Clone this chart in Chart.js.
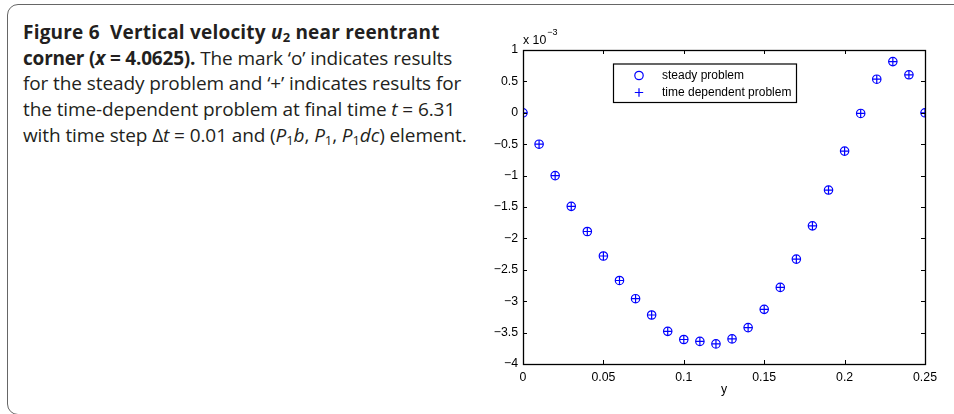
<!DOCTYPE html>
<html>
<head>
<meta charset="utf-8">
<script src="https://cdn.jsdelivr.net/npm/chart.js@4.4.1/dist/chart.umd.min.js"></script>
<style>
  html, body { margin: 0; padding: 0; background: #fff; }
  body { width: 954px; height: 414px; position: relative; overflow: hidden; }
  #frame {
    position: absolute; left: 7px; top: 4px; width: 1000px; height: 409px;
    border: 1.3px solid #666; border-radius: 11px;
  }
  #caption {
    position: absolute; left: 23px; top: 20px;
    font-family: "Open Sans", sans-serif; font-size: 19px; line-height: 25.7px;
    color: #231f20; white-space: nowrap; letter-spacing: -0.1px;
  }
  #caption b { font-weight: 700; letter-spacing: 0.2px; }
  #caption b.r { letter-spacing: -0.2px; }
  #caption sub { font-size: 13px; vertical-align: -3px; line-height: 0; }
  #chartBox { position: absolute; left: 470px; top: 0; width: 484px; height: 414px; }
</style>
</head>
<body>
<div id="frame"></div>
<div id="caption">
  <b>Figure 6&nbsp; Vertical velocity <i>u</i><sub>2</sub> near reentrant</b><br>
  <b class="r">corner (<i>x</i> = 4.0625).</b> The mark ‘o’ indicates results<br>
  for the steady problem and ‘+’ indicates results for<br>
  the time-dependent problem at final time <i>t</i> = 6.31<br>
  with time step Δ<i>t</i> = 0.01 and (<i>P</i><sub>1</sub><i>b</i>, <i>P</i><sub>1</sub>, <i>P</i><sub>1</sub><i>dc</i>) element.
</div>
<div id="chartBox"><canvas id="myChart"></canvas></div>
<script>
// y positions along the vertical line (x axis of the plot)
const yPos = [0, 0.01, 0.02, 0.03, 0.04, 0.05, 0.06, 0.07, 0.08, 0.09, 0.10, 0.11, 0.12,
              0.13, 0.14, 0.15, 0.16, 0.17, 0.18, 0.19, 0.20, 0.21, 0.22, 0.23, 0.24, 0.25];

// u2 values, in units of 1e-3
const steadyU2 = [0, -0.50, -1.00, -1.49, -1.89, -2.28, -2.67, -2.96, -3.22, -3.48, -3.61, -3.64, -3.68,
                  -3.60, -3.42, -3.13, -2.78, -2.33, -1.80, -1.23, -0.61, -0.01, 0.535, 0.815, 0.605, 0];
const timeDepU2 = [0, -0.50, -1.00, -1.49, -1.89, -2.28, -2.67, -2.96, -3.22, -3.48, -3.61, -3.64, -3.68,
                   -3.60, -3.42, -3.13, -2.78, -2.33, -1.80, -1.23, -0.61, -0.01, 0.535, 0.815, 0.605, 0];

const legendLabels = ['steady problem', 'time dependent problem'];
const fontFamily = '"Liberation Sans", Arial, sans-serif';
const axisFont = '12.3px ' + fontFamily;
const markerSize = 4.2;

function toPoints(xs, ys) {
    return xs.map((x, i) => ({ x: x, y: ys[i] }));
}

// matlab style box, inward ticks, exponent label, axis title and legend
const matlabAxes = {
    id: 'matlabAxes',
    afterDraw(chart) {
        const ctx = chart.ctx;
        const a = chart.chartArea;
        const xs = chart.scales.x;
        const ys = chart.scales.y;
        const tl = 4;
        ctx.save();
        ctx.strokeStyle = '#000';
        ctx.lineWidth = 1;
        ctx.beginPath();
        xs.ticks.forEach(t => {
            const px = Math.round(xs.getPixelForValue(t.value)) + 0.5;
            ctx.moveTo(px, a.bottom); ctx.lineTo(px, a.bottom - tl);
            ctx.moveTo(px, a.top); ctx.lineTo(px, a.top + tl);
        });
        ys.ticks.forEach(t => {
            const py = Math.round(ys.getPixelForValue(t.value)) + 0.5;
            ctx.moveTo(a.left, py); ctx.lineTo(a.left + tl, py);
            ctx.moveTo(a.right, py); ctx.lineTo(a.right - tl, py);
        });
        ctx.stroke();
        ctx.lineWidth = 1.3;
        ctx.strokeRect(Math.round(a.left) + 0.5, Math.round(a.top) + 0.5,
                       Math.round(a.right - a.left), Math.round(a.bottom - a.top));

        // exponent
        ctx.fillStyle = '#000';
        ctx.font = axisFont;
        ctx.textBaseline = 'middle';
        ctx.textAlign = 'left';
        ctx.fillText('x 10', a.left, a.top - 9);
        const w = ctx.measureText('x 10').width;
        ctx.font = '9px ' + fontFamily;
        ctx.fillText('\u22123', a.left + w + 1, a.top - 17);

        // axis title
        ctx.font = axisFont;
        ctx.textAlign = 'center';
        ctx.fillText('y', (a.left + a.right) / 2, a.bottom + 26);

        // legend
        const lx = a.left + 90, ly = a.top + 13.5, lw = 183, lh = 38.5;
        ctx.fillStyle = '#fff';
        ctx.fillRect(lx, ly, lw, lh);
        ctx.lineWidth = 1.2;
        ctx.strokeStyle = '#000';
        ctx.strokeRect(lx + 0.5, ly + 0.5, lw, lh);
        ctx.font = '12px ' + fontFamily;
        chart.data.datasets.forEach((ds, i) => {
            const cy = ly + 12 + i * 17;
            const cx = lx + 26;
            ctx.strokeStyle = ds.borderColor;
            ctx.lineWidth = 1.2;
            ctx.beginPath();
            if (ds.pointStyle === 'circle') {
                ctx.arc(cx, cy, markerSize, 0, Math.PI * 2);
            } else {
                ctx.moveTo(cx - markerSize, cy); ctx.lineTo(cx + markerSize, cy);
                ctx.moveTo(cx, cy - markerSize); ctx.lineTo(cx, cy + markerSize);
            }
            ctx.stroke();
            ctx.fillStyle = '#000';
            ctx.textAlign = 'left';
            ctx.fillText(legendLabels[i], lx + 49, cy + 0.5);
        });
        ctx.restore();
    }
};

const Voltage = document.getElementById('myChart');
const myChart = new Chart(Voltage, {
    type: 'scatter',
    data: {
        datasets: [{
            label: legendLabels[0],
            data: toPoints(yPos, steadyU2),
            pointStyle: 'circle',
            pointRadius: markerSize,
            borderColor: '#0000ff',
            backgroundColor: 'rgba(0,0,0,0)',
            borderWidth: 1.2,
        }, {
            label: legendLabels[1],
            data: toPoints(yPos, timeDepU2),
            pointStyle: 'cross',
            pointRadius: markerSize,
            borderColor: '#0000ff',
            backgroundColor: 'rgba(0,0,0,0)',
            borderWidth: 1.2,
        }]
    },
    options: {
        responsive: true,
        maintainAspectRatio: false,
        animation: false,
        layout: { padding: { left: 0, right: 29, top: 50, bottom: 0 } },
        plugins: { legend: { display: false }, tooltip: { enabled: false } },
        scales: {
            x: {
                type: 'linear',
                min: 0, max: 0.25,
                afterFit: (s) => { s.height = 50; },
                grid: { display: false, drawTicks: false },
                border: { display: false },
                ticks: {
                    stepSize: 0.05,
                    padding: 6,
                    color: '#000',
                    font: { family: fontFamily, size: 12.3 },
                    maxRotation: 0,
                    callback: (v) => String(Math.round(v * 100) / 100)
                }
            },
            y: {
                type: 'linear',
                min: -4, max: 1,
                afterFit: (s) => { s.width = 53; },
                grid: { display: false, drawTicks: false },
                border: { display: false },
                ticks: {
                    stepSize: 0.5,
                    padding: 5,
                    color: '#000',
                    font: { family: fontFamily, size: 12.3 },
                    callback: (v) => String(Math.round(v * 10) / 10).replace('-', '\u2212')
                }
            }
        }
    },
    plugins: [matlabAxes]
});
</script>
</body>
</html>
